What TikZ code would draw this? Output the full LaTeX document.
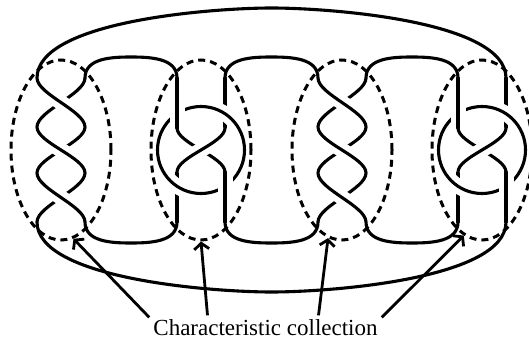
\documentclass[tikz,border=0pt]{standalone}
\usepackage{fontspec}
\setmainfont{Liberation Serif}
\usetikzlibrary{shapes,arrows.meta,positioning,calc}

\begin{document}
\begin{tikzpicture}[x=1pt, y=1pt,
    strand/.style={line width=3.1pt, line cap=round},
    overstrand/.style={strand, preaction={draw, white, line width=15pt, line cap=butt}},
    collection/.style={draw, ellipse, line width=3pt, dash pattern=on 7pt off 5pt, minimum width=100pt, minimum height=180pt, inner sep=0pt},
    pointer/.style={line width=2.8pt, -{Straight Barb[length=6pt,width=15pt]}}]
    \useasboundingbox (0,0) rectangle (529,-339);

    % Draw outer arcs
    \draw[strand] (37,-78) to[out=90,in=180,looseness=0.6] (271.5,-8) to[out=0,in=90,looseness=0.6] (506,-78);
    \draw[strand] (37,-222) to[out=-90,in=180,looseness=0.6] (271.5,-292) to[out=0,in=-90,looseness=0.6] (506,-222);

    % Draw loops between the tangles
    \draw[strand] (85,-78) to[out=90,in=180] (131,-57) to[out=0,in=90] (177,-78);
    \draw[strand] (225,-78) to[out=90,in=180] (271.5,-57) to[out=0,in=90] (318,-78);
    \draw[strand] (366,-78) to[out=90,in=180] (412,-57) to[out=0,in=90] (458,-78);
    \draw[strand] (85,-222) to[out=-90,in=180] (131,-243) to[out=0,in=-90] (177,-222);
    \draw[strand] (225,-222) to[out=-90,in=180] (271.5,-243) to[out=0,in=-90] (318,-222);
    \draw[strand] (366,-222) to[out=-90,in=180] (412,-243) to[out=0,in=-90] (458,-222);

    % Draw twists
    \foreach \cx in {61,342} {
        \draw[strand] (\cx+24,-78) to[out=-90,in=90,looseness=0.6] (\cx-24,-127);
        \draw[strand] (\cx+24,-127) to[out=-90,in=90,looseness=0.6] (\cx-24,-173);
        \draw[strand] (\cx+24,-173) to[out=-90,in=90,looseness=0.6] (\cx-24,-222);
        \draw[overstrand] (\cx-24,-78) to[out=-90,in=90,looseness=0.6] (\cx+24,-127);
        \draw[overstrand] (\cx-24,-127) to[out=-90,in=90,looseness=0.6] (\cx+24,-173);
        \draw[overstrand] (\cx-24,-173) to[out=-90,in=90,looseness=0.6] (\cx+24,-222);
    }

    % Draw clasps with rings
    \foreach \cx in {201,482} {
        \draw[strand] (\cx+24,-78) -- (\cx+24,-128);
        \draw[strand] (\cx-24,-172) -- (\cx-24,-222);
        \draw[strand] (\cx-24,-128) to[out=-90,in=90,looseness=0.6] (\cx+24,-172);
        \draw[overstrand, preaction={draw, white, line width=13pt}] (\cx,-150) circle (43.5);
        \draw[overstrand] (\cx-24,-78) -- (\cx-24,-128);
        \draw[overstrand] (\cx+24,-172) -- (\cx+24,-222);
        \draw[overstrand] (\cx+24,-128) to[out=-90,in=90,looseness=0.6] (\cx-24,-172);
    }

    % Draw characteristic collections
    \node[collection] (c1) at (61,-150) {};
    \node[collection] (c2) at (201,-150) {};
    \node[collection] (c3) at (342,-150) {};
    \node[collection] (c4) at (482,-150) {};

    \node[anchor=base, inner sep=1pt, font=\fontsize{23}{27}\selectfont] (cap) at (265.5,-335.5) {Characteristic collection};

    \draw[pointer] ($(cap.north west)+(-3,1)$) -- (c1.-82);
    \draw[pointer] ($(cap.north)+(-58,3)$) -- (c2.-90);
    \draw[pointer] ($(cap.north)+(53,3)$) -- (c3.-99);
    \draw[pointer] ($(cap.north east)+(3,1)$) -- (c4.-102);
\end{tikzpicture}
\end{document}
